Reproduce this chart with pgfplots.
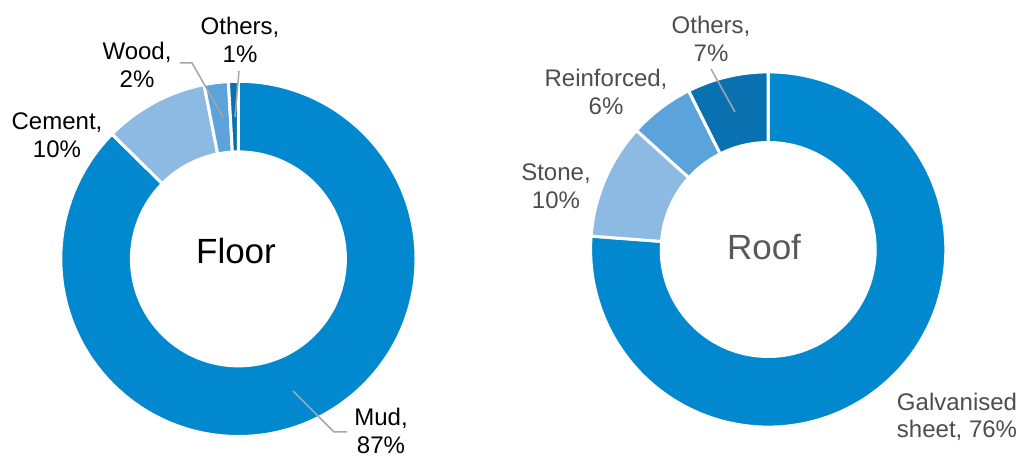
\documentclass[border=0pt]{standalone}
\usepackage{pgfplots}
\pgfplotsset{compat=1.18}
\usepackage{pgfplotstable}
\usepackage{fontspec}
\setmainfont{Liberation Sans}
\definecolor{cMain}{HTML}{0288CE}
\definecolor{cLight}{HTML}{8DBAE3}
\definecolor{cMed}{HTML}{5BA3DA}
\definecolor{cDark}{HTML}{0A71B0}
\definecolor{cLead}{HTML}{A6A6A6}
\definecolor{cRoofTxt}{HTML}{4D4D4D}
\definecolor{cRoofTitle}{HTML}{595959}

\pgfplotstableread{
c value
0 87.4
1 9.5
2 2.2
3 0.9
}\floordata
\pgfplotstableread{
c value
0 76.2
1 10.5
2 5.9
3 7.4
}\roofdata

\tikzset{lbl/.style={font=\fontsize{12}{13.75}\selectfont, align=center, anchor=center}}

\gdef\dnCum{0}
\pgfplotsset{
  donut/.style={
    scatter, only marks, mark=*, mark size=0pt,
    mark options={draw=none, fill=none},
    visualization depends on={\thisrow{c} \as \dnIdxRaw},
    visualization depends on={\thisrow{value} \as \dnValRaw},
    scatter/@pre marker code/.code={%
      \pgfkeys{/pgf/fpu=false}%
      \pgfmathfloatparsenumber{\dnValRaw}\pgfmathfloattofixed{\pgfmathresult}\let\dnV\pgfmathresult
      \pgfmathfloatparsenumber{\dnIdxRaw}\pgfmathfloattoint{\pgfmathresult}\let\dnI\pgfmathresult
      \ifnum\dnI=0 \gdef\dnCum{0}\fi
      \pgfmathsetmacro\dnSA{90-3.6*\dnCum}%
      \pgfmathsetmacro\dnNew{\dnCum+\dnV}%
      \xdef\dnCum{\dnNew}%
      \pgfmathsetmacro\dnEA{90-3.6*\dnCum}%
      \ifcase\dnI \def\dnCol{cMain}\or \def\dnCol{cLight}\or \def\dnCol{cMed}\or \def\dnCol{cDark}\fi
      \fill[\dnCol, draw=white, line width=1.5pt]
        (\dnSA:88.8pt) arc[start angle=\dnSA, end angle=\dnEA, radius=88.8pt]
        -- (\dnEA:53.5pt) arc[start angle=\dnEA, end angle=\dnSA, radius=53.5pt] -- cycle;
    },
    scatter/@post marker code/.code={},
  }
}

\begin{document}
\begin{tikzpicture}
\begin{axis}[
  at={(0,0)}, anchor=south west,
  scale only axis, width=510pt, height=229.5pt,
  xmin=0, xmax=1020, ymin=0, ymax=459,
  hide axis, clip=false,
]
\addplot[donut] table[x expr=238.4, y expr=200.1] {\floordata};
\addplot[donut] table[x expr=768.2, y expr=209.5] {\roofdata};

% leader line anchor points
\coordinate (o1) at (axis cs:239,388);
\coordinate (o2) at (axis cs:235,342);
\coordinate (w1) at (axis cs:180,396);
\coordinate (w2) at (axis cs:192,396);
\coordinate (w3) at (axis cs:223,342);
\coordinate (m1) at (axis cs:293,68);
\coordinate (m2) at (axis cs:334,27);
\coordinate (m3) at (axis cs:347,27);
\coordinate (r1) at (axis cs:711,390);
\coordinate (r2) at (axis cs:735,347);

% titles
\node[font=\fontsize{17.5}{20}\selectfont, anchor=base, text=black] at (axis cs:236,195.7) {Floor};
\node[font=\fontsize{17.5}{20}\selectfont, anchor=base, text=cRoofTitle] at (axis cs:764,199) {Roof};

% floor labels
\node[lbl, text=black] at (axis cs:240,419) {Others,\\1\%};
\node[lbl, text=black] at (axis cs:137,394) {Wood,\\2\%};
\node[lbl, text=black] at (axis cs:57,324) {Cement,\\10\%};
\node[lbl, text=black] at (axis cs:381,28) {Mud,\\87\%};

% roof labels
\node[lbl, text=cRoofTxt] at (axis cs:711,420) {Others,\\7\%};
\node[lbl, text=cRoofTxt] at (axis cs:606,367) {Reinforced,\\6\%};
\node[lbl, text=cRoofTxt] at (axis cs:556,273) {Stone,\\10\%};
\node[lbl, text=cRoofTxt] at (axis cs:957,42) {Galvanised\\sheet, 76\%};
\end{axis}
% leader lines on top of the rings
\draw[cLead, line width=0.75pt] (o1) -- (o2);
\draw[cLead, line width=0.75pt] (w1) -- (w2) -- (w3);
\draw[cLead, line width=0.75pt] (m1) -- (m2) -- (m3);
\draw[cLead, line width=0.75pt] (r1) -- (r2);
\pgfresetboundingbox
\useasboundingbox (0,0) rectangle (510pt,229.5pt);
\end{tikzpicture}
\end{document}
